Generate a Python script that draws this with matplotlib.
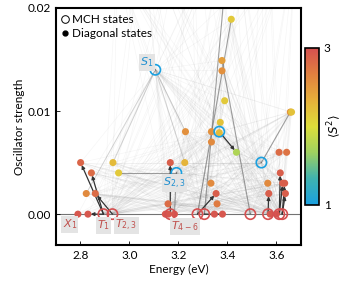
import numpy as np
import matplotlib
matplotlib.use("Agg")
import matplotlib.pyplot as plt
import matplotlib.colors as colors
from matplotlib.lines import Line2D

# MCH states (open circles): energy (eV), oscillator strength, <S^2>
mch_E  = [3.106, 3.192, 3.367, 3.539, 2.894, 2.931, 3.167, 3.278, 3.306, 3.494, 3.566, 3.612, 3.624]
mch_f  = [0.0140, 0.0040, 0.0080, 0.0050, 0, 0, 0, 0, 0, 0, 0, 0, 0]
mch_s2 = [1.0, 1.0, 1.0, 1.0, 3, 3, 3, 3, 3, 3, 3, 3, 3]

# diagonal states (filled circles)
diag_E = [2.790, 2.831, 2.801, 2.845, 2.824, 2.861, 2.933, 2.956, 3.147, 3.159,
          3.184, 3.158, 3.167, 3.226, 3.229, 3.335, 3.335, 3.371, 3.367, 3.333,
          3.354, 3.358, 3.437, 3.378, 3.378, 3.389, 3.416, 3.657, 3.662, 3.611,
          3.642, 3.616, 3.565, 3.626, 3.634, 3.569, 3.637, 3.347, 3.380, 3.575,
          3.600, 3.05, 3.25, 3.42, 3.55, 3.68, 2.95]
diag_f = [0, 0, 0.0050, 0.0040, 0.0020, 0.0020, 0.0050, 0.0040, 0, 0,
          0, 0.0010, 0.0050, 0.0050, 0.0080, 0.0080, 0.0070, 0.0089, 0.0079, 0.0030,
          0.0020, 0.0010, 0.0060, 0.0149, 0.0139, 0.0110, 0.0189, 0.0099, 0.0099, 0.0060,
          0.0060, 0.0040, 0.0030, 0.0030, 0.0030, 0.0020, 0.0020, 0, 0, 0,
          0, 0.028, 0.032, 0.030, 0.036, 0.027, 0.024]
diag_s2 = [2.95, 2.95, 2.85, 2.8, 2.6, 2.8, 2.25, 2.15, 2.95, 2.95,
           2.95, 2.8, 2.9, 2.3, 2.55, 2.55, 2.6, 2.2, 2.25, 2.6,
           2.9, 2.7, 1.75, 2.45, 2.55, 2.15, 2.15, 2.55, 2.2, 2.8,
           2.75, 2.9, 2.6, 2.9, 2.9, 2.9, 2.9, 2.95, 2.95, 2.95,
           2.95, 2.5, 2.5, 2.5, 2.5, 2.5, 2.5]

# strong contributions (mch index, diag index)
dark_links = [(4, 1), (4, 2), (4, 3), (5, 5), (2, 22), (7, 20), (6, 12),
              (6, 10), (8, 38), (11, 31), (11, 33), (12, 36), (12, 34), (10, 35)]
mid_links = [(1, 7), (1, 10), (3, 27), (9, 23), (7, 26), (8, 43)]
weak_links = [(0, 14), (0, 6), (0, 13), (0, 4)]

labels = [(r"$S_1$", 3.043, 0.0147, "#1f8fd0"), (r"$S_{2,3}$", 3.137, 0.0030, "#1f8fd0"),
          (r"$X_1$", 2.728, -0.0010, "#c0504d"), (r"$T_1$", 2.868, -0.0011, "#c0504d"),
          (r"$T_{2,3}$", 2.943, -0.0011, "#c0504d"), (r"$T_{4-6}$", 3.170, -0.0012, "#c0504d")]

cmap = colors.LinearSegmentedColormap.from_list(
    "s2", ["#1aa0e0", "#3fb3b0", "#9fd060", "#dede3a", "#e6b03a", "#e0803f", "#d55050"])
norm = colors.Normalize(1, 3)

plt.rcParams['font.family'] = ['Lato', 'DejaVu Sans']
plt.rcParams['mathtext.fontset'] = 'dejavusans'

fig = plt.figure(figsize=(3.47, 2.83), dpi=100)
ax = fig.add_axes([0.161, 0.134, 0.706, 0.838])

ax.axhline(0, color="0.45", lw=0.8, zorder=1)

# faint mesh of all contributions
for i in range(len(mch_E)):
    for j in range(len(diag_E)):
        ax.plot([mch_E[i], diag_E[j]], [mch_f[i], diag_f[j]], color="0.5",
                lw=0.5, alpha=0.07, zorder=1)

for i, j in weak_links:
    ax.plot([mch_E[i], diag_E[j]], [mch_f[i], diag_f[j]], color="0.5", lw=0.7,
            alpha=0.3, zorder=2)
for i, j in mid_links:
    ax.plot([mch_E[i], diag_E[j]], [mch_f[i], diag_f[j]], color="0.4", lw=0.8,
            alpha=0.6, zorder=2)
for i, j in dark_links:
    ax.annotate("", xy=(diag_E[j], diag_f[j]), xytext=(mch_E[i], mch_f[i]),
                arrowprops=dict(arrowstyle="-|>", color="0.2", lw=0.9,
                                mutation_scale=5, shrinkA=0, shrinkB=2), zorder=3)

ax.scatter(diag_E, diag_f, c=diag_s2, cmap=cmap, norm=norm, s=26,
           edgecolors="none", zorder=4)
ax.scatter(mch_E, mch_f, facecolors="none", edgecolors=cmap(norm(np.array(mch_s2))),
           s=55, linewidths=1.2, zorder=5)

for txt, x, y, c in labels:
    ax.text(x, y, txt, color=c, fontsize=8, va="center", ha="left", zorder=6,
            bbox=dict(facecolor="#e4e4e4", edgecolor="none", pad=1.0))

ax.set_xlim(2.70, 3.70)
ax.set_ylim(-0.003, 0.02)
ax.set_xticks([2.8, 3.0, 3.2, 3.4, 3.6])
ax.set_yticks([0.0, 0.01, 0.02])
ax.set_yticklabels(["0.00", "0.01", "0.02"])
ax.tick_params(direction="in", length=3, labelsize=8.5, width=0.6)
for sp in ax.spines.values():
    sp.set_linewidth(1.5)
ax.set_xlabel("Energy (eV)", fontsize=8.5, labelpad=2)
ax.set_ylabel("Oscillator strength", fontsize=8.5, labelpad=2)

handles = [Line2D([], [], marker="o", ls="none", mfc="none", mec="k", ms=5.5, mew=0.7),
           Line2D([], [], marker="o", ls="none", mfc="k", mec="k", ms=3.5)]
ax.legend(handles, ["MCH states", "Diagonal states"], loc="upper left", frameon=False,
          fontsize=8.5, handlelength=0.6, handletextpad=0.3, borderaxespad=0.1,
          labelspacing=0.3)

cax = fig.add_axes([0.879, 0.276, 0.040, 0.555])
cb = fig.colorbar(plt.cm.ScalarMappable(norm=norm, cmap=cmap), cax=cax)
cb.set_ticks([1, 3])
cb.ax.tick_params(labelsize=8.5, length=0)
cb.outline.set_linewidth(1.2)
cb.set_label(r"$\langle S^2\rangle$", fontsize=8.5, labelpad=-4)

fig.savefig("out.png", dpi=100)
